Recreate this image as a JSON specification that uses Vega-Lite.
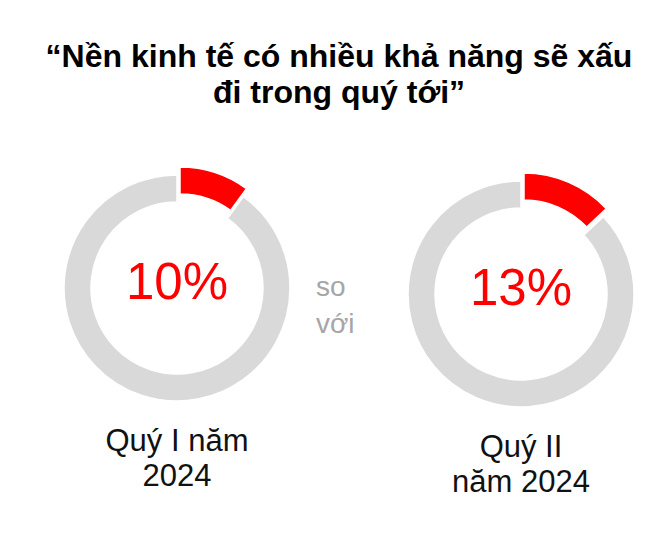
{
  "$schema": "https://vega.github.io/schema/vega-lite/v6.json",
  "width": 654,
  "height": 522,
  "autosize": {"type": "none"},
  "padding": {"left": 9, "top": 16, "right": 0, "bottom": 0},
  "background": "#ffffff",
  "config": {"view": {"fill": "#f2f2f2", "stroke": null}, "font": "Liberation Sans"},
  "title": {
    "text": ["“Nền kinh tế có nhiều khả năng sẽ xấu", "đi trong quý tới”"],
    "fontSize": 32,
    "fontWeight": "bold",
    "font": "Liberation Sans",
    "color": "#000000",
    "anchor": "middle",
    "frame": "group",
    "lineHeight": 36,
    "offset": -94,
    "dx": 3
  },
  "data": {
    "values": [
      {"quarter": "Quý I năm 2024", "label": "Quý I năm\n2024", "share": 0.10},
      {"quarter": "Quý II năm 2024", "label": "Quý II\nnăm 2024", "share": 0.13}
    ]
  },
  "layer": [
    {
      "mark": {"type": "arc", "innerRadius": 86, "outerRadius": 113, "fill": "#d9d9d9", "stroke": "#ffffff", "strokeWidth": 1.5},
      "encoding": {
        "x": {"field": "quarter", "type": "nominal", "scale": {"type": "point", "range": [168, 512], "padding": 0}, "axis": null},
        "y": {"field": "quarter", "type": "nominal", "scale": {"type": "point", "range": [272, 278], "padding": 0}, "axis": null},
        "theta": {"field": "share", "type": "quantitative", "stack": null, "scale": {"domain": [0, 1]}},
        "theta2": {"datum": 1}
      }
    },
    {
      "mark": {"type": "arc", "innerRadius": 86, "outerRadius": 113, "fill": "#ff0000", "stroke": "#ffffff", "strokeWidth": 1.5, "xOffset": 3, "yOffset": -8},
      "encoding": {
        "x": {"field": "quarter", "type": "nominal"},
        "y": {"field": "quarter", "type": "nominal"},
        "theta": {"field": "share", "type": "quantitative", "stack": null},
        "theta2": {"datum": 0}
      }
    },
    {
      "mark": {"type": "text", "fontSize": 51, "color": "#ff0000", "align": "center", "baseline": "alphabetic", "dy": 11, "font": "Liberation Sans"},
      "encoding": {
        "x": {"field": "quarter", "type": "nominal"},
        "y": {"field": "quarter", "type": "nominal"},
        "text": {"field": "share", "type": "quantitative", "format": ".0%"}
      }
    },
    {
      "mark": {"type": "text", "fontSize": 31, "color": "#111111", "align": "center", "baseline": "alphabetic", "dy": 163, "lineBreak": "\n", "lineHeight": 35, "font": "Liberation Sans"},
      "encoding": {
        "x": {"field": "quarter", "type": "nominal"},
        "y": {"field": "quarter", "type": "nominal"},
        "text": {"field": "label", "type": "nominal"}
      }
    },
    {
      "data": {"values": [{}]},
      "mark": {"type": "text", "text": ["so", "với"], "fontSize": 28, "color": "#a6a6a6", "align": "left", "baseline": "alphabetic", "dx": -20, "dy": 19, "lineHeight": 37, "font": "Liberation Sans"},
      "encoding": {}
    }
  ]
}
